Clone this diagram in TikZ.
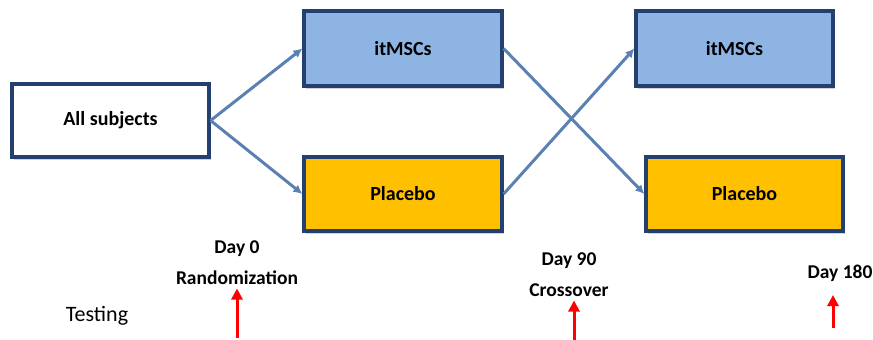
\documentclass[tikz,border=0pt]{standalone}
\usepackage{fontspec}
\setmainfont{Carlito}
\usetikzlibrary{arrows.meta,shadows,positioning}
\definecolor{boxline}{HTML}{23406E}
\definecolor{armblue}{HTML}{8EB4E3}
\definecolor{armgold}{HTML}{FFC000}
\definecolor{flowline}{HTML}{5B80B4}

\begin{document}
\begin{tikzpicture}[
  x=1pt, y=-1pt,
  arm/.style={rectangle, draw=boxline, line width=3.2pt, minimum width=197pt, minimum height=73pt,
    font=\fontsize{20}{22}\selectfont\bfseries,
    drop shadow={shadow xshift=1.5pt, shadow yshift=-2.5pt, opacity=0.35}},
  flow/.style={draw=flowline, line width=3pt, -{Latex[length=9pt,width=9pt]}},
  day label/.style={align=center, font=\fontsize{19.5}{31}\selectfont\bfseries},
  mark arrow/.style={draw=red, line width=3pt, -{Triangle[length=11pt,width=11pt]}}
]
  \useasboundingbox (0,0) rectangle (873,340);
  \node[arm, fill=white] (all) at (110.5,120.5) {All subjects};
  \node[arm, fill=armblue, minimum width=198pt, minimum height=75pt] (itA) at (403,48.5) {itMSCs};
  \node[arm, fill=armgold, minimum width=198pt, minimum height=74pt] (plA) at (403,194) {Placebo};
  \node[arm, fill=armblue, minimum height=75pt] (itB) at (734.5,48.5) {itMSCs};
  \node[arm, fill=armgold, minimum height=74pt] (plB) at (744.5,194) {Placebo};
  \draw[flow] (all.east) -- (itA.west);
  \draw[flow] (all.east) -- (plA.west);
  \draw[flow] (itA.east) -- (plB.west);
  \draw[flow] (plA.east) -- (itB.west);
  % time points
  \node[day label] (d0) at (237,263) {Day 0\\Randomization};
  \node[day label] (d90) at (569,275) {Day 90\\Crossover};
  \node[day label] (d180) at (840,273) {Day 180};
  \node[font=\fontsize{22}{24}\selectfont] (test) at (97,316) {Testing};
  \coordinate (r0) at (237,338);
  \coordinate (r90) at (574,340);
  \coordinate (r180) at (833,328);
  \coordinate (t180) at (833,295);
  \draw[mark arrow] (r0) -- (r0 |- d0.south);
  \draw[mark arrow] (r90) -- (r90 |- d90.south);
  \draw[mark arrow] (r180) -- (t180);
\end{tikzpicture}
\end{document}
